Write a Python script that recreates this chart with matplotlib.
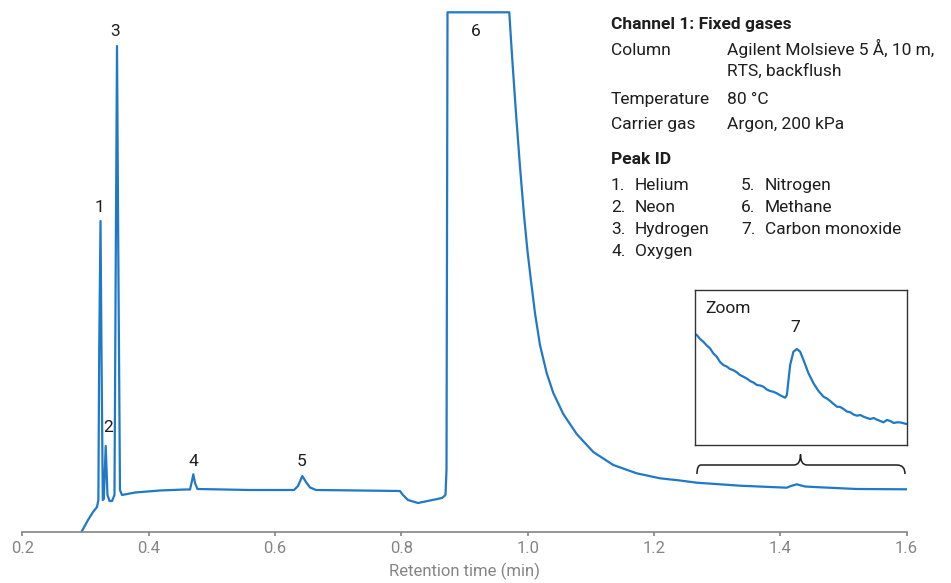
import matplotlib.pyplot as plt
from matplotlib.path import Path
from matplotlib.patches import PathPatch

plt.rcParams['font.family'] = ['Roboto', 'DejaVu Sans']

# main chromatogram trace
time = [0.2896, 0.2939, 0.3039, 0.3118, 0.3181, 0.3203, 0.3216, 0.3237, 0.3252, 0.3273,
        0.3289, 0.3319, 0.3347, 0.3379, 0.3419, 0.3458, 0.3479, 0.3498, 0.3518, 0.3545,
        0.3577, 0.3783, 0.4179, 0.4574, 0.4654, 0.4685, 0.4706, 0.4733, 0.4772, 0.5604,
        0.6300, 0.6364, 0.6432, 0.6490, 0.6554, 0.6649, 0.7345, 0.7978, 0.8026, 0.8105,
        0.8264, 0.8454, 0.8644, 0.8699, 0.8715, 0.8731, 0.9709, 0.9736, 0.9768, 0.9815,
        0.9879, 0.9942, 0.9997, 1.0053, 1.0116, 1.0195, 1.0301, 1.0406, 1.0564, 1.0776,
        1.1039, 1.1356, 1.1726, 1.2095, 1.2412, 1.2676, 1.3362, 1.4101, 1.4169, 1.4260,
        1.4391, 1.4629, 1.5210, 1.6000]
signal = [-5.5, 0.0, 11.5, 19.5, 24.5, 31.5, 181.5, 310.5, 181.5, 31.5,
          32.5, 85.5, 36.5, 30.5, 30.5, 36.5, 281.5, 485.5, 281.5, 41.5,
          36.5, 39.0, 41.0, 42.0, 42.0, 50.5, 57.2, 48.5, 42.5, 41.5,
          41.5, 45.5, 55.5, 49.5, 44.0, 41.5, 41.0, 40.5, 36.5, 31.5,
          28.5, 31.0, 33.5, 36.5, 61.5, 519.2, 519.2, 492.0, 461.5, 418.5,
          364.5, 316.5, 280.5, 250.5, 218.5, 186.5, 158.5, 138.5, 117.5, 97.5,
          79.5, 66.5, 58.2, 53.2, 51.0, 48.8, 45.8, 43.8, 45.5, 47.2,
          45.0, 44.2, 42.5, 42.2]

# zoomed view around peak 7
zoom_time = [1.2649, 1.2676, 1.2730, 1.2780, 1.2835, 1.2886, 1.2940, 1.2993, 1.3045, 1.3097,
             1.3150, 1.3203, 1.3255, 1.3309, 1.3360, 1.3414, 1.3467, 1.3520, 1.3573, 1.3626,
             1.3680, 1.3730, 1.3783, 1.3836, 1.3890, 1.3943, 1.4000, 1.4074, 1.4101, 1.4153,
             1.4205, 1.4259, 1.4311, 1.4364, 1.4443, 1.4522, 1.4601, 1.4680, 1.4733, 1.4786,
             1.4840, 1.4893, 1.4945, 1.4997, 1.5050, 1.5103, 1.5155, 1.5209, 1.5262, 1.5314,
             1.5367, 1.5420, 1.5473, 1.5526, 1.5578, 1.5630, 1.5683, 1.5736, 1.5790, 1.5843,
             1.5900, 1.5974, 1.6000]
zoom_signal = [111.0, 110.0, 106.0, 103.3, 99.5, 96.7, 91.5, 88.3, 83.0, 80.0,
               78.5, 76.0, 74.8, 72.7, 70.0, 68.3, 66.5, 64.0, 62.5, 60.0,
               59.5, 58.3, 55.5, 54.0, 53.2, 51.7, 49.5, 47.3, 50.0, 80.0,
               93.3, 96.0, 93.3, 85.0, 71.7, 61.7, 54.0, 48.3, 46.5, 44.0,
               41.0, 38.3, 38.0, 36.0, 33.5, 32.7, 30.5, 29.3, 30.0, 28.3,
               27.0, 26.0, 27.0, 25.3, 24.0, 22.7, 25.0, 24.0, 22.0, 22.7,
               22.5, 21.3, 21.0]

peak_ids = ['1', '2', '3', '4', '5', '6']
peak_label_t = [0.3213, 0.3355, 0.3466, 0.4701, 0.6427, 0.9182]
peak_label_s = [324.5, 104.5, 499.5, 69.5, 69.5, 499.5]

xticks = [0.2, 0.4, 0.6, 0.8, 1.0, 1.2, 1.4, 1.6]

blue = '#1f78c8'
grey = '#858585'
dark = '#1e1e1e'

fig = plt.figure(figsize=(9.51, 5.83), dpi=100)
W, H = 951, 583

ax = fig.add_axes([22.4 / W, 1 - 531.5 / H, 884.2 / W, 527.5 / H])
ax.plot(time, signal, color=blue, lw=1.6, solid_joinstyle='round')
ax.set_xlim(0.2, 1.6)
ax.set_ylim(0, 527.5)
for s in ['top', 'right', 'left']:
    ax.spines[s].set_visible(False)
ax.spines['bottom'].set_color(grey)
ax.spines['bottom'].set_linewidth(1.2)
ax.set_yticks([])
ax.set_xticks(xticks)
ax.set_xticklabels([f'{v:.1f}' for v in xticks])
ax.tick_params(axis='x', direction='out', length=3, width=1.2, color=grey,
               labelcolor=grey, labelsize=12, pad=4)
ax.set_xlabel('Retention time (min)', color=grey, fontsize=12, labelpad=5)

for lab, t, s in zip(peak_ids, peak_label_t, peak_label_s):
    ax.text(t, s, lab, ha='center', va='center', fontsize=12.5, color=dark)

# curly bracket under the zoom box
bx = [1.2681, 1.2681, 1.2745, 1.2808, 1.3500, 1.4217, 1.4320, 1.4320,
      1.4320, 1.4423, 1.5200, 1.5848, 1.5975, 1.5975]
by = [57.5, 66.5, 66.5, 66.5, 66.5, 66.5, 66.5, 77.0,
      66.5, 66.5, 66.5, 66.5, 66.5, 57.5]
codes = [Path.MOVETO, Path.CURVE3, Path.CURVE3, Path.LINETO, Path.LINETO, Path.LINETO,
         Path.CURVE3, Path.CURVE3, Path.CURVE3, Path.CURVE3, Path.LINETO, Path.LINETO,
         Path.CURVE3, Path.CURVE3]
ax.add_patch(PathPatch(Path(list(zip(bx, by)), codes), fill=False, lw=1.1,
                       edgecolor=dark, clip_on=False))

# inset
axz = fig.add_axes([695 / W, 1 - 445 / H, 212 / W, 155 / H])
axz.plot(zoom_time, zoom_signal, color=blue, lw=1.6)
axz.set_xlim(1.2649, 1.6)
axz.set_ylim(0, 155)
axz.set_xticks([])
axz.set_yticks([])
for s in axz.spines.values():
    s.set_color('#333333')
    s.set_linewidth(1.0)
axz.text(0.05, 0.88, 'Zoom', transform=axz.transAxes, ha='left', va='center',
         fontsize=12.5, color=dark)
axz.text(1.4232, 118, '7', ha='center', va='center', fontsize=12.5, color=dark)

# info panel
def txt(x, y, s, bold=False):
    fig.text(x / W, 1 - y / H, s, ha='left', va='baseline', fontsize=12.5,
             color=dark, fontweight='bold' if bold else 'normal')

txt(611, 29.5, 'Channel 1: Fixed gases', bold=True)
txt(611, 55, 'Column')
txt(727, 55, 'Agilent Molsieve 5 Å, 10 m,')
txt(727, 76, 'RTS, backflush')
txt(611, 104, 'Temperature')
txt(727, 104, '80 °C')
txt(611, 129, 'Carrier gas')
txt(727, 129, 'Argon, 200 kPa')
txt(611, 164, 'Peak ID', bold=True)

col1 = ['Helium', 'Neon', 'Hydrogen', 'Oxygen']
col2 = ['Nitrogen', 'Methane', 'Carbon monoxide']
for i, name in enumerate(col1):
    txt(611, 190 + 22 * i, f'{i + 1}.')
    txt(635, 190 + 22 * i, name)
for i, name in enumerate(col2):
    txt(741, 190 + 22 * i, f'{i + 5}.')
    txt(765, 190 + 22 * i, name)

fig.savefig('out.png', dpi=100)
